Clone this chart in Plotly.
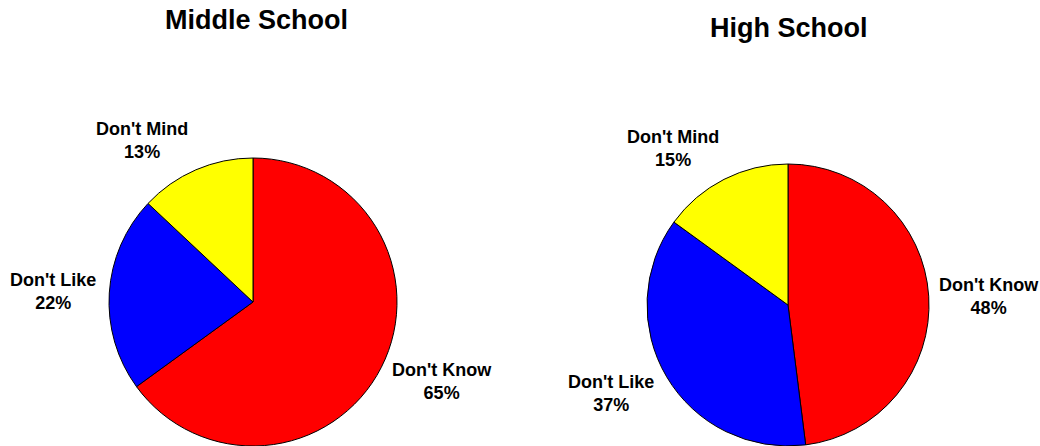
import plotly.graph_objects as go

# All pixel positions below are screen pixels; the page's default body margin
# is removed so the figure fills the 1040x446 window exactly.
OFF = 0
W, H = 1040, 446

categories = ["Don't Know", "Don't Like", "Don't Mind"]
middle_values = [65, 22, 13]
high_values = [48, 37, 15]
colors = ["#ff0000", "#0000ff", "#ffff00"]
titles = ["Middle School", "High School"]

# label anchor positions (screen pixels) for each pie's slices
middle_label_px = [(442, 381), (53, 291), (142, 140)]
high_label_px = [(989, 296), (611, 393), (673, 149)]
title_px = [(256, 20), (789, 28)]

FONT = "Arial, 'Liberation Sans', Helvetica, sans-serif"

fig = go.Figure()


def fx(px):
    return (px - OFF) / W


def fy(py):
    return 1 - (py - OFF) / H


def add_pie(values, cx, cy, r, name):
    fig.add_trace(go.Pie(
        labels=categories,
        values=values,
        name=name,
        sort=False,
        direction="clockwise",
        rotation=0,
        textinfo="none",
        hoverinfo="label+percent",
        showlegend=False,
        marker=dict(colors=colors, line=dict(color="#000000", width=1)),
        domain=dict(x=[fx(cx - r), fx(cx + r)],
                    y=[max(0, fy(cy + r)), min(1, fy(cy - r))]),
    ))


add_pie(middle_values, 253, 302, 144, titles[0])
add_pie(high_values, 788, 305, 141, titles[1])

annotations = []
for vals, pos in ((middle_values, middle_label_px), (high_values, high_label_px)):
    for cat, v, (px, py) in zip(categories, vals, pos):
        annotations.append(dict(
            x=fx(px), y=fy(py), xref="paper", yref="paper",
            text=f"<b>{cat}<br>{v}%</b>", showarrow=False,
            xanchor="center", yanchor="middle", align="center",
            font=dict(family=FONT, size=18, color="#000000"),
        ))
for t, (px, py) in zip(titles, title_px):
    annotations.append(dict(
        x=fx(px), y=fy(py), xref="paper", yref="paper",
        text=f"<b>{t}</b>", showarrow=False,
        xanchor="center", yanchor="middle",
        font=dict(family=FONT, size=27, color="#000000"),
    ))

fig.update_layout(
    width=W, height=H,
    margin=dict(l=0, r=0, t=0, b=0),
    paper_bgcolor="#ffffff",
    plot_bgcolor="#ffffff",
    annotations=annotations,
)

fig.write_html(
    "out.html",
    config={"displayModeBar": False},
    post_script="document.body.style.margin='0px';"
                "document.body.style.overflow='hidden';",
)
